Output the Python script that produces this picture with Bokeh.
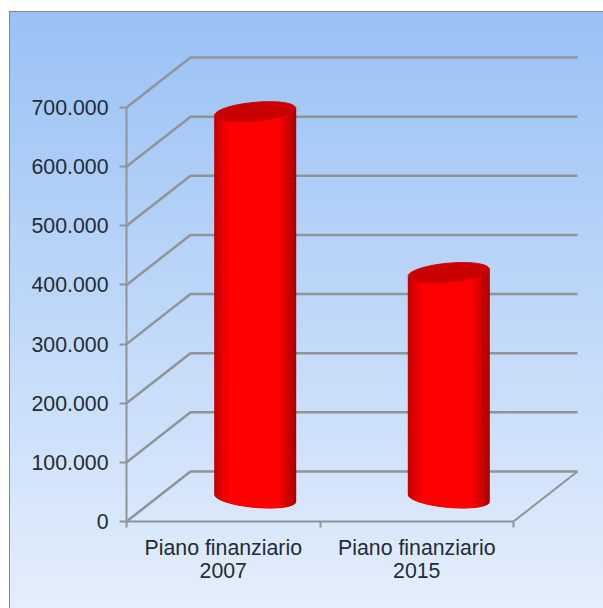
import math
from bokeh.plotting import figure
from bokeh.models import Range1d, LinearAxis, FixedTicker
from bokeh.embed import file_html
from bokeh.resources import INLINE

categories = ["Piano finanziario\n2007", "Piano finanziario\n2015"]
values = [653000, 381000]
y_ticks = [0, 100000, 200000, 300000, 400000, 500000, 600000, 700000]
y_labels = ["0", "100.000", "200.000", "300.000", "400.000", "500.000", "600.000", "700.000"]

# layout (pixels)
W, H = 594, 597
LEFT, BOTTOM = 117, 87
GRID = "#8f9499"
TEXT = "#222b3a"
px_x = len(categories) / 387        # data units per pixel
px_y = 700000 / 414
xmax = (W - LEFT) * px_x
ymax = (H - BOTTOM) * px_y
dx, dy = 64 * px_x, 50 * px_y       # 3D depth
cdx, cdy = 32 * px_x, 23.5 * px_y   # cylinder position in depth
rx, ry, shear = 40.5 * px_x, 9.5 * px_y, 3.5 * px_y

p = figure(width=W, height=H, output_backend="svg", toolbar_location=None,
           x_range=Range1d(0, xmax), y_range=Range1d(0, ymax),
           x_axis_location=None, y_axis_location=None,
           min_border_left=LEFT, min_border_right=0, min_border_top=0, min_border_bottom=BOTTOM,
           background_fill_alpha=0, border_fill_alpha=0, outline_line_color=None,
           margin=(11, 0, 0, 9),
           styles={"background": "linear-gradient(#99c1f5, #e4eefc)",
                   "box-shadow": "inset 1px 1px 0 #85898c"})
p.grid.visible = False

# walls
xs, ys = [], []
for t in y_ticks:
    xs.append([0, dx, dx + len(categories)])
    ys.append([t, t + dy, t + dy])
p.multi_line(xs, ys, line_color=GRID, line_width=2.5)
p.multi_line([[len(categories), len(categories) + dx]], [[0, dy]], line_color=GRID, line_width=2)

# cylinders
N = 160
def shade(u):
    t = (u + 1) / 2
    if t < 0.2:
        f = (t / 0.2) ** 0.6
        return (int(180 + 75 * f), 0, 0)
    if t < 0.78:
        return (255, 0, 0)
    f = ((1 - t) / 0.22) ** 0.8
    return (int(165 + 90 * f), 0, 0)

def edge(u):
    return math.sqrt(max(0, 1 - u * u))

for i, v in enumerate(values):
    cx = i + 0.5 + cdx
    xs, ys, cols = [], [], []
    for k in range(N):
        ua = -1 + 2 * k / N
        ub = -1 + 2 * (k + 1) / N
        xs.append([cx + rx * ua, cx + rx * ub, cx + rx * ub, cx + rx * ua])
        ys.append([cdy + shear * (-ua) - ry * edge(ua), cdy + shear * (-ub) - ry * edge(ub),
                   v + cdy + shear * ub - ry * edge(ub), v + cdy + shear * ua - ry * edge(ua)])
        r, g, bb = shade((ua + ub) / 2)
        cols.append("#%02x%02x%02x" % (r, g, bb))
    p.patches(xs, ys, fill_color=cols, line_color=cols, line_width=0.8)
    # top cap
    th = [2 * math.pi * j / 80 for j in range(81)]
    p.patch([cx + rx * math.cos(q) for q in th],
            [v + cdy + shear * math.cos(q) + ry * math.sin(q) for q in th],
            fill_color="#c80000", line_color="#d40000", line_width=1)

# axes
yax = LinearAxis(ticker=FixedTicker(ticks=y_ticks), bounds=(0, 700000),
                 major_label_overrides={t: l for t, l in zip(y_ticks, y_labels)})
yax.axis_line_color = GRID
yax.axis_line_width = 2
yax.major_tick_line_color = GRID
yax.major_tick_line_width = 2
yax.major_tick_in = 0
yax.major_tick_out = 7
yax.minor_tick_line_color = None
yax.major_label_standoff = 11
yax.major_label_text_font = "Liberation Sans"
yax.major_label_text_font_size = "21.3px"
yax.major_label_text_color = TEXT
p.add_layout(yax, "left")

cat_ticks = [i + 0.5 for i in range(len(categories))]
xax = LinearAxis(ticker=FixedTicker(ticks=cat_ticks, minor_ticks=list(range(len(categories) + 1))),
                 bounds=(0, len(categories)),
                 major_label_overrides={t: l for t, l in zip(cat_ticks, categories)})
xax.axis_line_color = GRID
xax.axis_line_width = 2
xax.major_tick_line_color = None
xax.minor_tick_line_color = GRID
xax.minor_tick_line_width = 2
xax.minor_tick_in = 0
xax.minor_tick_out = 6
xax.major_tick_out = 0
xax.major_tick_in = 0
xax.major_label_standoff = 8
xax.major_label_text_font = "Liberation Sans"
xax.major_label_text_font_size = "21.3px"
xax.major_label_text_color = TEXT
xax.major_label_text_line_height = 0.98
p.add_layout(xax, "below")

open("out.html", "w").write(file_html(p, INLINE))
